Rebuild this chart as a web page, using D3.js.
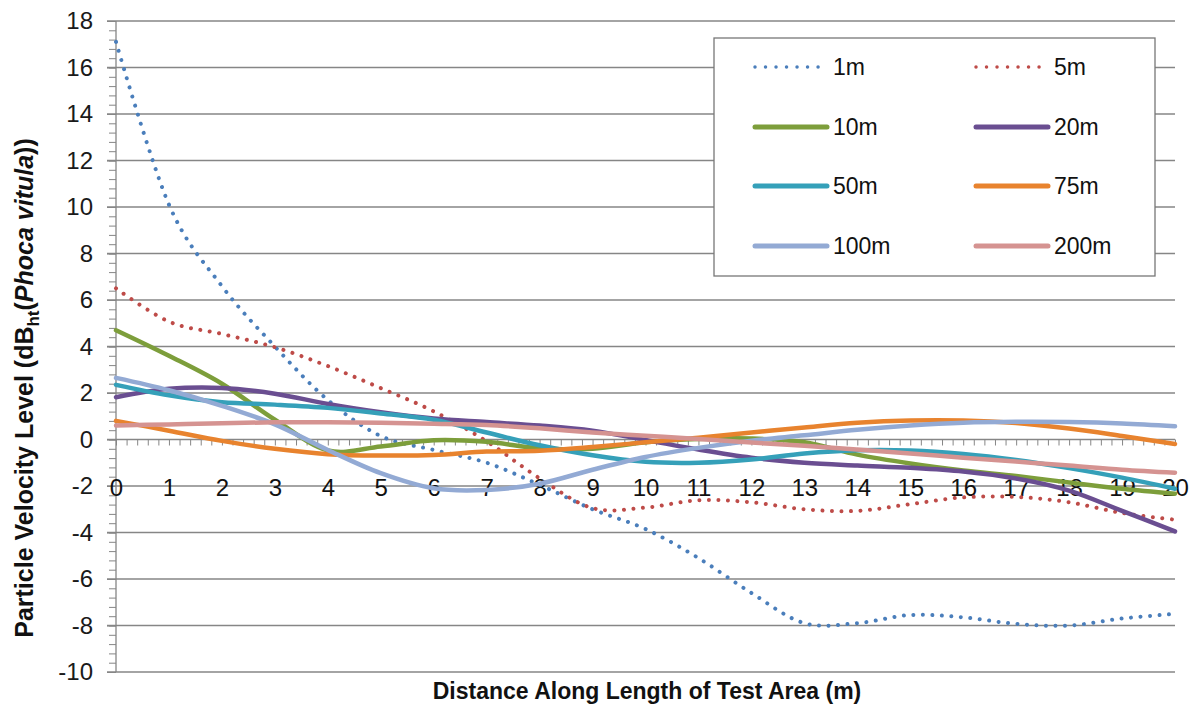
<!DOCTYPE html>
<html>
<head>
<meta charset="utf-8">
<script src="https://cdn.jsdelivr.net/npm/d3@7"></script>
<style>
  body { margin: 0; background: #fff; }
  svg { display: block; }
</style>
</head>
<body>
<div id="chart"></div>
<script>
// distance along test area (m)
var distances = [0,1,2,3,4,5,6,7,8,9,10,11,12,13,14,15,16,17,18,19,20];

// particle velocity level per source distance
var s1m   = [17.1, 10.1, 6.6, 4.0, 1.7, 0.15, -0.45, -1.0, -1.95, -3.0, -3.85, -5.1, -6.6, -7.9, -7.9, -7.55, -7.65, -7.93, -8.0, -7.7, -7.5];
var s5m   = [6.5, 5.07, 4.54, 3.97, 3.16, 2.21, 1.21, -0.08, -1.67, -2.95, -2.93, -2.61, -2.7, -3.0, -3.07, -2.78, -2.49, -2.47, -2.7, -3.16, -3.45];
var s10m  = [4.7, 3.6, 2.4, 0.85, -0.47, -0.3, -0.03, -0.1, -0.38, -0.4, -0.12, 0.02, 0.04, -0.12, -0.65, -1.03, -1.33, -1.57, -1.85, -2.12, -2.33];
var s20m  = [1.82, 2.18, 2.22, 1.97, 1.53, 1.17, 0.9, 0.75, 0.6, 0.38, -0.02, -0.43, -0.78, -1.0, -1.12, -1.22, -1.38, -1.68, -2.2, -3.07, -3.95];
var s50m  = [2.35, 1.9, 1.6, 1.5, 1.36, 1.12, 0.85, 0.3, -0.25, -0.68, -0.96, -1.0, -0.86, -0.6, -0.46, -0.47, -0.62, -0.88, -1.23, -1.64, -2.12];
var s75m  = [0.8, 0.38, -0.06, -0.4, -0.63, -0.69, -0.67, -0.52, -0.48, -0.32, -0.12, 0.08, 0.3, 0.52, 0.72, 0.82, 0.82, 0.71, 0.47, 0.15, -0.19];
var s100m = [2.65, 2.12, 1.45, 0.65, -0.45, -1.45, -2.1, -2.17, -1.9, -1.3, -0.75, -0.36, -0.05, 0.18, 0.42, 0.6, 0.72, 0.76, 0.75, 0.69, 0.57];
var s200m = [0.6, 0.65, 0.7, 0.74, 0.74, 0.72, 0.68, 0.62, 0.48, 0.3, 0.16, 0.02, -0.13, -0.27, -0.43, -0.6, -0.78, -0.95, -1.12, -1.3, -1.43];

var seriesNames  = ["1m", "5m", "10m", "20m", "50m", "75m", "100m", "200m"];
var seriesValues = [s1m, s5m, s10m, s20m, s50m, s75m, s100m, s200m];
var seriesColors = ["#4a7ebb", "#be4b48", "#7d9e3b", "#6a4e91", "#35a0b9", "#e8832e", "#93aad4", "#d59391"];
var seriesDotted = [true, true, false, false, false, false, false, false];

var yTicks = [-10,-8,-6,-4,-2,0,2,4,6,8,10,12,14,16,18];
var xTicks = distances;

var W = 1203, H = 706;

var svg = d3.select("#chart").append("svg")
    .attr("width", W)
    .attr("height", H);

var x = d3.scaleLinear().domain([0, 20]).range([116, 1175]);
var y = d3.scaleLinear().domain([-10, 18]).range([672, 21]);

var gridColor = "#868686";

// horizontal gridlines
svg.append("g").selectAll("line")
    .data(yTicks)
    .enter().append("line")
    .attr("x1", 107).attr("x2", x(20))
    .attr("y1", d => y(d)).attr("y2", d => y(d))
    .attr("stroke", gridColor)
    .attr("stroke-width", 1.3);

// y axis with minor ticks
var yMinor = svg.append("g")
    .attr("transform", "translate(" + x(0) + ",0)")
    .call(d3.axisLeft(y).tickValues(d3.range(-10, 18.01, 0.4)).tickSize(7).tickFormat(""));
yMinor.select(".domain").remove();
yMinor.selectAll("line").attr("stroke", gridColor);

var yAxis = svg.append("g")
    .attr("transform", "translate(" + x(0) + ",0)")
    .call(d3.axisLeft(y).tickValues(yTicks).tickSize(9).tickPadding(14).tickFormat(d => String(d)));
yAxis.select(".domain").attr("stroke", gridColor).attr("stroke-width", 1.3).attr("d", "M0," + y(18) + "V" + y(-10));
yAxis.selectAll("line").attr("stroke", gridColor);
yAxis.selectAll("text")
    .attr("font-family", "Liberation Sans, Arial, sans-serif")
    .attr("font-size", 24)
    .attr("fill", "#1a1a1a");

// x axis minor ticks along y = 0
var xMinor = svg.append("g")
    .attr("transform", "translate(0," + y(0) + ")")
    .call(d3.axisBottom(x).tickValues(d3.range(0, 20.01, 0.2)).tickSize(6).tickFormat(""));
xMinor.select(".domain").remove();
xMinor.selectAll("line").attr("stroke", gridColor);

// x tick labels
var xAxis = svg.append("g")
    .attr("transform", "translate(0,487)")
    .call(d3.axisBottom(x).tickValues(xTicks).tickSize(0).tickPadding(0).tickFormat(d3.format("d")));
xAxis.select(".domain").remove();
xAxis.selectAll("text")
    .attr("y", 0)
    .attr("dy", "0.36em")
    .attr("font-family", "Liberation Sans, Arial, sans-serif")
    .attr("font-size", 24)
    .attr("fill", "#111");

// lines
var line = d3.line()
    .x((d, i) => x(distances[i]))
    .y(d => y(d))
    .curve(d3.curveCardinal.tension(0));

svg.append("g").selectAll("path")
    .data(seriesValues)
    .enter().append("path")
    .attr("d", line)
    .attr("fill", "none")
    .attr("stroke", (d, i) => seriesColors[i])
    .attr("stroke-width", (d, i) => seriesDotted[i] ? 4 : 4.5)
    .attr("stroke-linecap", "round")
    .attr("stroke-linejoin", "round")
    .attr("stroke-dasharray", (d, i) => seriesDotted[i] ? "0.01,9.5" : null);

// legend
var legend = svg.append("g");
legend.append("rect")
    .attr("x", 714).attr("y", 38)
    .attr("width", 441).attr("height", 238)
    .attr("fill", "#fff")
    .attr("stroke", "#777")
    .attr("stroke-width", 1.3);

var items = legend.selectAll("g.item")
    .data(seriesNames)
    .enter().append("g")
    .attr("class", "item")
    .attr("transform", (d, i) => "translate(" + (i % 2 === 0 ? 755 : 976) + "," + [67, 127, 186, 246][Math.floor(i / 2)] + ")");

items.append("line")
    .attr("x1", 0).attr("x2", (d, i) => seriesDotted[i] ? 66 : 72)
    .attr("y1", 0).attr("y2", 0)
    .attr("stroke", (d, i) => seriesColors[i])
    .attr("stroke-width", (d, i) => seriesDotted[i] ? 3.5 : 5)
    .attr("stroke-linecap", "round")
    .attr("stroke-dasharray", (d, i) => seriesDotted[i] ? "0.01,10.5" : null);

items.append("text")
    .attr("x", 78)
    .attr("dy", "0.36em")
    .attr("font-family", "Liberation Sans, Arial, sans-serif")
    .attr("font-size", 23)
    .attr("fill", "#111")
    .text(d => d);

// axis titles
svg.append("text")
    .attr("x", 647).attr("y", 699)
    .attr("text-anchor", "middle")
    .attr("font-family", "Liberation Sans, Arial, sans-serif")
    .attr("font-weight", "bold")
    .attr("font-size", 23)
    .attr("fill", "#111")
    .text("Distance Along Length of Test Area (m)");

var yTitle = svg.append("text")
    .attr("transform", "translate(33,388) rotate(-90)")
    .attr("text-anchor", "middle")
    .attr("font-family", "Liberation Sans, Arial, sans-serif")
    .attr("font-weight", "bold")
    .attr("font-size", 25)
    .attr("fill", "#111");
yTitle.append("tspan").text("Particle Velocity Level (dB");
yTitle.append("tspan").attr("font-size", 17).attr("dy", 6).text("ht");
yTitle.append("tspan").attr("dy", -6).text("(");
yTitle.append("tspan").attr("font-style", "italic").text("Phoca vitula");
yTitle.append("tspan").text("))");
</script>
</body>
</html>
